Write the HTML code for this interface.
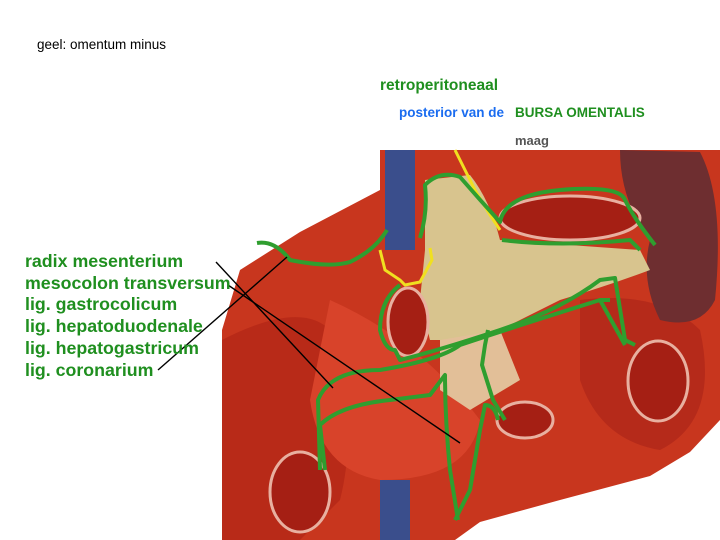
<!DOCTYPE html>
<html><head><style>
body{margin:0;width:720px;height:540px;background:#fff;overflow:hidden;position:relative;font-family:"Liberation Sans",Arial,sans-serif}
.t{position:absolute;white-space:nowrap}
.g{color:#1f8f1f;font-weight:bold}
</style></head><body>
<svg width="720" height="540" style="position:absolute;left:0;top:0">
<polygon points="222,540 222,330 240,270 300,232 380,190 380,150 720,150 720,420 690,452 650,476 560,500 480,522 455,540" fill="#c8361e"/>
<path d="M222,340 Q300,300 330,330 Q360,420 340,500 L300,540 L222,540Z" fill="#b82a18"/>
<path d="M330,300 Q420,340 480,420 Q470,480 380,480 Q320,470 310,400Z" fill="#d8432a"/>
<path d="M580,300 Q660,290 700,330 Q720,420 660,450 Q600,440 580,380Z" fill="#b52a1a"/>
<path d="M620,150 L700,152 Q725,200 715,300 Q700,330 660,320 Q640,280 650,240 Q620,200 620,150Z" fill="#6e2e30"/>
<path d="M425,180 L470,175 Q490,200 500,240 L640,250 L650,270 Q610,285 560,300 L480,340 L430,340 L420,300 L425,250Z" fill="#d8c48e"/>
<path d="M440,340 L500,330 L520,380 L470,410 L440,390Z" fill="#e2bf98"/>
<rect x="385" y="150" width="30" height="100" fill="#3a4e8c"/>
<rect x="380" y="480" width="30" height="60" fill="#3a4e8c"/>
<ellipse cx="570" cy="218" rx="70" ry="22" fill="#a51f14" stroke="#e8b0a0" stroke-width="3"/>
<ellipse cx="408" cy="322" rx="20" ry="34" fill="#a51f14" stroke="#e8b0a0" stroke-width="3"/>
<ellipse cx="658" cy="381" rx="30" ry="40" fill="#a51f14" stroke="#e8b0a0" stroke-width="3"/>
<ellipse cx="300" cy="492" rx="30" ry="40" fill="#a51f14" stroke="#e8b0a0" stroke-width="3"/>
<ellipse cx="525" cy="420" rx="28" ry="18" fill="#a51f14" stroke="#e8b0a0" stroke-width="3"/>
<path d="M455,150 L475,190 L490,215 L500,230" fill="none" stroke="#f0e020" stroke-width="3"/>
<path d="M380,250 L385,270 L400,280 L405,285 L420,282 L432,260 L430,248" fill="none" stroke="#f0e020" stroke-width="3"/>
<g fill="none" stroke="#2f9e2f" stroke-width="4" stroke-linejoin="round">
<path d="M257,243 Q275,240 290,260 Q330,268 350,262 Q375,250 387,230"/>
<path d="M420,238 Q428,212 425,185 Q440,170 460,177 Q480,200 500,222 Q505,195 560,190 Q620,185 625,200 Q635,220 655,245"/>
<path d="M502,240 Q560,247 630,240 L640,250"/>
<path d="M400,285 Q380,300 380,330 Q385,350 395,350 L400,360 Q440,350 500,330 Q560,310 600,280 L615,278 L625,340 L635,345"/>
<path d="M320,470 L318,400 Q330,370 380,370 Q440,360 460,345 Q520,325 600,300 L610,300"/>
<path d="M600,300 L625,345"/>
<path d="M325,470 L320,425 Q340,405 390,400 L430,395 L445,375 Q445,420 450,470 L458,520"/>
<path d="M455,520 L470,490 L480,430 L485,405 Q495,405 498,420"/>
<path d="M488,330 L485,345 L482,365 L493,400 L505,420"/>
</g>
<g stroke="#000" stroke-width="1.4">
<line x1="158" y1="370" x2="287" y2="257"/>
<line x1="216" y1="262" x2="333" y2="388"/>
<line x1="228" y1="285" x2="460" y2="443"/>
</g>
</svg>
<div class="t" style="left:37px;top:37px;font-size:13.5px">geel: omentum minus</div>
<div class="t g" style="left:380px;top:77px;font-size:15.5px">retroperitoneaal</div>
<div class="t" style="left:399px;top:105px;font-size:13.5px;color:#1a6cf0;font-weight:bold">posterior van de</div>
<div class="t g" style="left:515px;top:105px;font-size:13.5px">BURSA OMENTALIS</div>
<div class="t" style="left:515px;top:133px;font-size:13px;color:#555;font-weight:bold">maag</div>
<div class="t g" style="left:25px;top:251px;font-size:17.8px;line-height:21.7px">radix mesenterium<br>mesocolon transversum<br>lig. gastrocolicum<br>lig. hepatoduodenale<br>lig. hepatogastricum<br>lig. coronarium</div>
</body></html>
